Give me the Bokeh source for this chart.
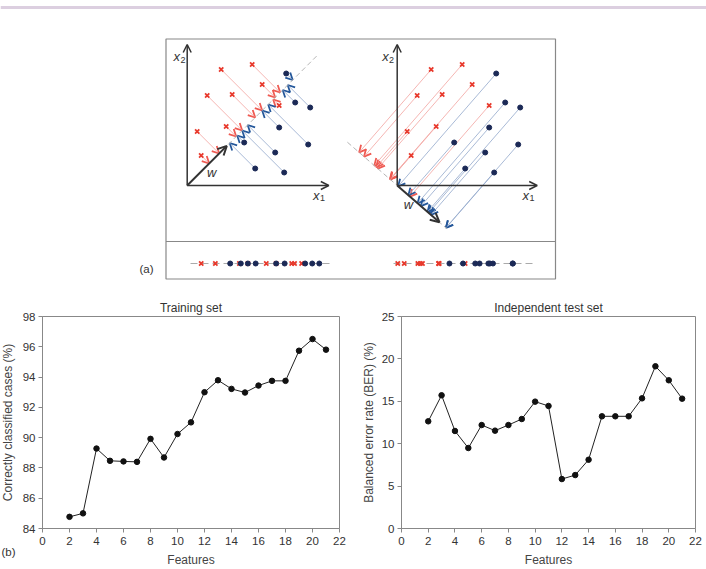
import math
from bokeh.plotting import figure
from bokeh.layouts import column, row
from bokeh.models import Range1d, Label, Arrow, OpenHead, FixedTicker, ColumnDataSource
from bokeh.embed import file_html
from bokeh.resources import INLINE

# ---------------- data ----------------
features = list(range(2, 22))
training_correct = [84.77, 85.0, 89.28, 88.47, 88.43, 88.4, 89.92, 88.69, 90.24, 91.01,
                    93.0, 93.79, 93.22, 92.98, 93.44, 93.75, 93.75, 95.74, 96.51, 95.81]
test_ber = [12.64, 15.71, 11.50, 9.49, 12.20, 11.54, 12.20, 12.91, 14.96, 14.45,
            5.83, 6.30, 8.11, 13.23, 13.23, 13.23, 15.35, 19.13, 17.48, 15.31]
x_ticks = list(range(0, 23, 2))
train_ticks = list(range(84, 99, 2))
test_ticks = list(range(0, 26, 5))

# schematic (a): two classes in feature space (x1, x2)
class_a_x1 = [34, 65, 20, 45, 75, 92, 10, 39, 14]
class_a_x2 = [116, 121, 90, 91, 101, 80, 54, 59, 30]
class_b_x1 = [99, 108, 123, 92, 57, 88, 121, 68, 97]
class_b_x2 = [112, 83, 78, 58, 43, 33, 41, 17, 13]
w_angle_deg = [45, -41]          # projection direction w in the two panels

# ---------------- layout constants ----------------
RED = "#e8392c"
RED_L = "#f3a3a0"
NAVY = "#1b2956"
BLUE = "#24579a"
BLUE_L = "#93a8cc"
AX = "#333333"
GRAY = "#888888"
FONT = "Liberation Sans"

origins = [(186.7, 185.0), (396.7, 185.0)]
axis_len_x = [141.6, 140.0]
axis_top_y = 44.0
strip_zero = [169.6, 447.7]
strip_span = [(190, 333), (393, 535)]
strip_y = 263.0
dash_t = [(58, 184), (-66, 66)]
w_len = 56.0

TOP_H = 293
top = figure(width=706, height=TOP_H, x_range=Range1d(0, 706), y_range=Range1d(TOP_H, 0),
             output_backend="svg", toolbar_location=None,
             x_axis_location=None, y_axis_location=None, min_border=0)
top.grid.grid_line_color = None
top.outline_line_color = None
top.background_fill_color = "white"

# light purple rule at top
top.segment(x0=[0], y0=[7], x1=[706], y1=[7], line_color="#dccfe0", line_width=3)
# frame box and divider
top.quad(left=[165.5], right=[555], top=[38.5], bottom=[278.5], fill_color=None,
         line_color=GRAY, line_width=1.2)
top.segment(x0=[165.5], y0=[241], x1=[555], y1=[241], line_color=GRAY, line_width=1.2)


def lbl(x, y, t, size="12px", style="normal"):
    top.add_layout(Label(x=x, y=y, text=t, text_align="center", text_baseline="middle",
                         text_font=FONT, text_font_size=size, text_font_style=style,
                         text_color=AX))


for k in range(2):
    ox, oy = origins[k]
    th = math.radians(w_angle_deg[k])
    c, s = math.cos(th), math.sin(th)

    # feature axes
    for (xe, ye) in [(ox + axis_len_x[k], oy), (ox, axis_top_y)]:
        top.add_layout(Arrow(x_start=ox, y_start=oy, x_end=xe, y_end=ye,
                             line_color=AX, line_width=1.5,
                             end=OpenHead(size=8, line_color=AX, line_width=1.5)))
    # dashed projection line
    t0, t1 = dash_t[k]
    top.segment(x0=[ox + t0 * c], y0=[oy - t0 * s], x1=[ox + t1 * c], y1=[oy - t1 * s],
                line_color="#b5b5b5", line_width=1, line_dash="5 3")

    # projection arrows
    for xs, ys, lc, hc in [(class_a_x1, class_a_x2, RED_L, "#ef5a52"),
                           (class_b_x1, class_b_x2, BLUE_L, BLUE)]:
        x0, y0, x1, y1 = [], [], [], []
        for a, b in zip(xs, ys):
            t = a * c + b * s
            x0.append(ox + a)
            y0.append(oy - b)
            x1.append(ox + t * c)
            y1.append(oy - t * s)
        src = ColumnDataSource(dict(x0=x0, y0=y0, x1=x1, y1=y1))
        top.add_layout(Arrow(x_start="x0", y_start="y0", x_end="x1", y_end="y1", source=src,
                             line_color=lc, line_width=0.8, level="underlay",
                             end=OpenHead(size=7, line_color=hc, line_width=1.8)))

    # w vector
    top.add_layout(Arrow(x_start=ox, y_start=oy, x_end=ox + w_len * c, y_end=oy - w_len * s,
                         line_color=AX, line_width=2,
                         end=OpenHead(size=9, line_color=AX, line_width=2)))

    # points
    top.scatter([ox + a for a in class_a_x1], [oy - b for b in class_a_x2], marker="x",
                size=6, line_color=RED, line_width=1.8)
    top.scatter([ox + a for a in class_b_x1], [oy - b for b in class_b_x2], marker="circle",
                size=5, fill_color=NAVY, line_color=NAVY)

    # 1-D projected strip
    sa, sb = strip_span[k]
    top.segment(x0=[sa], y0=[strip_y], x1=[sb], y1=[strip_y], line_color="#aaaaaa",
                line_width=1, line_dash="7 4")
    z = strip_zero[k]
    top.scatter([z + a * c + b * s for a, b in zip(class_a_x1, class_a_x2)], [strip_y] * 9,
                marker="x", size=6, line_color=RED, line_width=1.8)
    top.scatter([z + a * c + b * s for a, b in zip(class_b_x1, class_b_x2)], [strip_y] * 9,
                marker="circle", size=5, fill_color=NAVY, line_color=NAVY)

# axis labels of the schematic
lbl(176.3, 55.7, "x", "13px", "italic"); lbl(182.5, 59.5, "2", "9px")
lbl(315.8, 194.5, "x", "13px", "italic"); lbl(322, 197.5, "1", "9px")
lbl(385.0, 55.7, "x", "13px", "italic"); lbl(391, 59.5, "2", "9px")
lbl(525.3, 194.7, "x", "13px", "italic"); lbl(531.5, 197.5, "1", "9px")
lbl(211.3, 171.7, "w", "13px", "italic")
lbl(408.0, 203.7, "w", "13px", "italic")
lbl(146, 268, "(a)", "11.5px")


# ---------------- bottom charts ----------------
BOT_H = 569 - TOP_H
SIDE_W = 16
FRAME_TOP, FRAME_BOT = 316, 529      # page rows of the chart frames (aligned in the row)

# narrow side strip holding the panel tag "(b)" and the left y-axis title
side = figure(width=SIDE_W, height=BOT_H, x_range=Range1d(0, SIDE_W),
              y_range=Range1d(FRAME_BOT, FRAME_TOP),
              output_backend="svg", toolbar_location=None,
              x_axis_location="below", y_axis_location=None, min_border=0)
side.grid.grid_line_color = None
side.outline_line_color = None
side.xaxis.ticker = FixedTicker(ticks=[SIDE_W / 2])
side.xaxis.major_label_overrides = {SIDE_W / 2: "(b)"}
side.xaxis.axis_line_color = None
side.xaxis.major_tick_line_color = None
side.xaxis.minor_tick_line_color = None
side.xaxis.major_tick_out = 0
side.xaxis.major_tick_in = 0
side.xaxis.major_label_standoff = 17
side.xaxis.major_label_text_font = FONT
side.xaxis.major_label_text_font_size = "11.5px"
side.xaxis.major_label_text_color = AX
side.add_layout(Label(x=7, y=422.5, text="Correctly classified cases (%)",
                      angle=math.pi / 2, text_align="center", text_baseline="middle",
                      text_font=FONT, text_font_size="12px", text_color="#444444"))


def chart(width, title, ylabel, ys, yr, yticks, bl, br):
    p = figure(width=width, height=BOT_H, x_range=Range1d(0, 22), y_range=Range1d(*yr),
               output_backend="svg", toolbar_location=None,
               min_border_left=bl, min_border_right=br, min_border_top=23, min_border_bottom=40)
    p.title.text = title
    p.title.align = "center"
    p.title.text_font = FONT
    p.title.text_font_size = "12px"
    p.title.text_font_style = "normal"
    p.title.text_color = AX
    p.title.standoff = 4
    p.grid.grid_line_color = None
    p.outline_line_color = GRAY
    p.line(features, ys, line_color="#222222", line_width=1)
    p.scatter(features, ys, size=5.5, fill_color="#111111", line_color="#111111")
    p.xaxis.ticker = FixedTicker(ticks=x_ticks)
    p.yaxis.ticker = FixedTicker(ticks=yticks)
    p.xaxis.axis_label = "Features"
    if ylabel:
        p.yaxis.axis_label = ylabel
    for ax in (p.xaxis, p.yaxis):
        ax.axis_line_color = GRAY
        ax.major_tick_line_color = GRAY
        ax.major_tick_out = 4
        ax.major_tick_in = 0
        ax.minor_tick_line_color = None
        ax.major_label_text_font = FONT
        ax.major_label_text_font_size = "11.5px"
        ax.major_label_text_color = "#333333"
        ax.major_label_text_font_style = "normal"
        ax.axis_label_text_font = FONT
        ax.axis_label_text_font_size = "12px"
        ax.axis_label_text_font_style = "normal"
        ax.axis_label_text_color = "#444444"
    p.xaxis.major_label_standoff = 4
    p.yaxis.major_label_standoff = 3
    p.xaxis.axis_label_standoff = 5
    p.yaxis.axis_label_standoff = 3
    return p


left = chart(353 - SIDE_W, "Training set", None, training_correct, (84, 98),
             train_ticks, 42 - SIDE_W, 14)
right = chart(353, "Independent test set", "Balanced error rate (BER) (%)", test_ber, (0, 25),
              test_ticks, 48, 11)

layout = column(top, row(side, left, right, spacing=0), spacing=0)
open("out.html", "w").write(file_html(layout, INLINE))
